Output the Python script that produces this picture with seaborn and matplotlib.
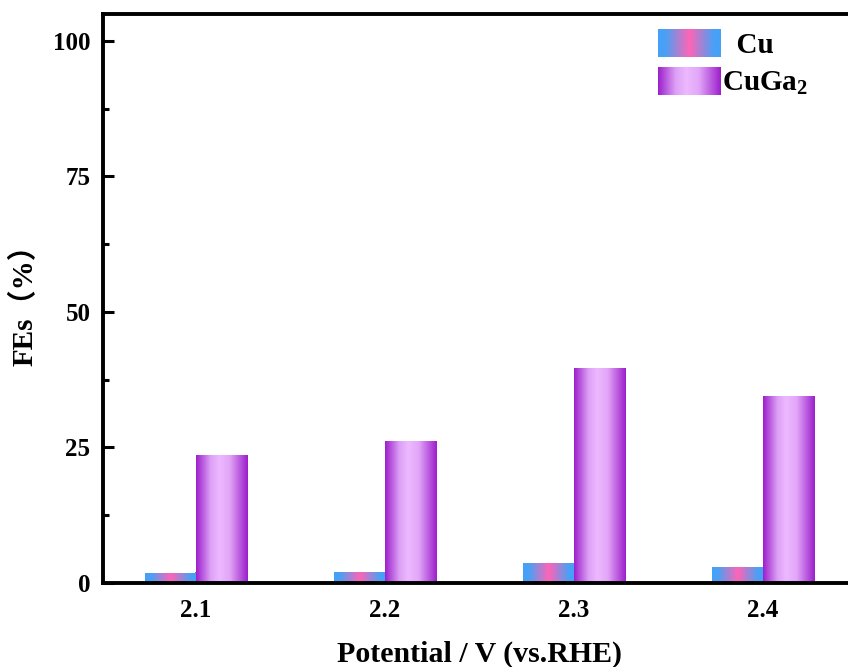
import numpy as np
import pandas as pd
import matplotlib
matplotlib.use("Agg")
import matplotlib.pyplot as plt
import seaborn as sns
from matplotlib.colors import LinearSegmentedColormap
from matplotlib.legend_handler import HandlerBase
from matplotlib.image import BboxImage
from matplotlib.transforms import Bbox, TransformedBbox
from matplotlib.patches import Patch
from matplotlib.ticker import MultipleLocator, AutoMinorLocator

# Faradaic efficiencies at each applied potential
potentials = ["2.1", "2.2", "2.3", "2.4"]
fe_cu = [1.73, 1.97, 3.63, 2.84]
fe_cuga2 = [23.5, 26.2, 39.6, 34.4]
samples = ["Cu", "CuGa2"]
legend_labels = ["  Cu", r"CuGa$_{\mathrm{2}}$"]

sns.set_style("ticks")
plt.rcParams["font.family"] = ["Liberation Serif", "Noto Sans CJK SC"]
plt.rcParams["font.weight"] = "bold"
for key in ["text.color", "axes.labelcolor", "xtick.color", "ytick.color",
            "axes.edgecolor"]:
    plt.rcParams[key] = "black"
plt.rcParams["mathtext.fontset"] = "custom"
plt.rcParams["mathtext.rm"] = "Liberation Serif:bold"
plt.rcParams["mathtext.it"] = "Liberation Serif:italic:bold"
plt.rcParams["mathtext.bf"] = "Liberation Serif:bold"

df = pd.DataFrame({
    "Potential": potentials * 2,
    "FE": fe_cu + fe_cuga2,
    "Sample": [samples[0]] * len(potentials) + [samples[1]] * len(potentials),
})

# horizontal gradients giving the bars a cylindrical look
cmaps = [
    LinearSegmentedColormap.from_list(
        "cu", [(0.0, "#44a2f8"), (0.12, "#4aa0f4"), (0.5, "#ff64b6"),
               (0.88, "#4aa0f4"), (1.0, "#44a2f8")]),
    LinearSegmentedColormap.from_list(
        "cuga2", [(0.0, "#9c1fcb"), (0.28, "#dca0f6"), (0.45, "#edb9ff"),
                  (0.65, "#e2a6f8"), (1.0, "#9c1fcb")]),
]
grad = np.linspace(0, 1, 256).reshape(1, -1)

fig = plt.figure(figsize=(8.48, 6.67), dpi=100)
W, H = 848, 667
x_left, x_right, y_bot, y_top = 103, 856, 582.7, 14
ax = fig.add_axes([x_left / W, (H - y_bot) / H,
                   (x_right - x_left) / W, (y_bot - y_top) / H])

sns.barplot(data=df, x="Potential", y="FE", hue="Sample", width=0.54,
            palette=["#44a2f8", "#9c1fcb"], saturation=1, errorbar=None,
            legend=False, ax=ax)

for container, cmap in zip(ax.containers, cmaps):
    for bar in container:
        x0, y0 = bar.get_x(), bar.get_y()
        w, h = bar.get_width(), bar.get_height()
        ax.imshow(grad, cmap=cmap, extent=[x0, x0 + w, y0, y0 + h],
                  aspect="auto", interpolation="bicubic", zorder=bar.get_zorder())
        bar.set_visible(False)

ax.set_xlim(-0.492, 3.492)
ax.set_ylim(0, 105)

ax.yaxis.set_major_locator(MultipleLocator(25))
ax.yaxis.set_minor_locator(AutoMinorLocator(2))
ax.tick_params(axis="both", which="major", direction="in", length=8, width=2.2,
               labelsize=18, colors="black")
ax.tick_params(axis="y", which="major", pad=9)
ax.tick_params(axis="x", which="major", pad=12)
ax.tick_params(axis="y", which="minor", direction="in", length=4, width=2.2,
               colors="black")
ax.tick_params(axis="x", which="minor", bottom=False)
for lab in ax.get_xticklabels() + ax.get_yticklabels():
    lab.set_fontweight("bold")

for side in ["left", "right", "top", "bottom"]:
    ax.spines[side].set_visible(True)
    ax.spines[side].set_linewidth(2.8)
    ax.spines[side].set_color("black")

ax.set_xlabel("Potential / V (vs.RHE)", fontsize=21.5, fontweight="bold",
              labelpad=13, color="black")
ax.set_ylabel("FEs（%）", fontsize=21, fontweight="bold", labelpad=10,
              color="black")


class GradientHandler(HandlerBase):
    def __init__(self, cmap):
        super().__init__()
        self.cmap = cmap

    def create_artists(self, legend, orig_handle, xdescent, ydescent,
                       width, height, fontsize, trans):
        bb = Bbox.from_bounds(-xdescent, -ydescent, width, height)
        img = BboxImage(TransformedBbox(bb, trans), cmap=self.cmap,
                        interpolation="bicubic")
        img.set_data(grad)
        return [img]


handles = [Patch(label=lbl) for lbl in legend_labels]
ax.legend(handles=handles, labels=legend_labels,
          handler_map={handles[0]: GradientHandler(cmaps[0]),
                       handles[1]: GradientHandler(cmaps[1])},
          loc="upper left", bbox_to_anchor=(658 / W, (H - 30) / H),
          bbox_transform=fig.transFigure, frameon=False,
          prop={"weight": "bold", "size": 21},
          handlelength=2.15, handleheight=1.05, handletextpad=0.05,
          labelspacing=0.28, borderpad=0, borderaxespad=0)

fig.savefig("out.png", dpi=100)
